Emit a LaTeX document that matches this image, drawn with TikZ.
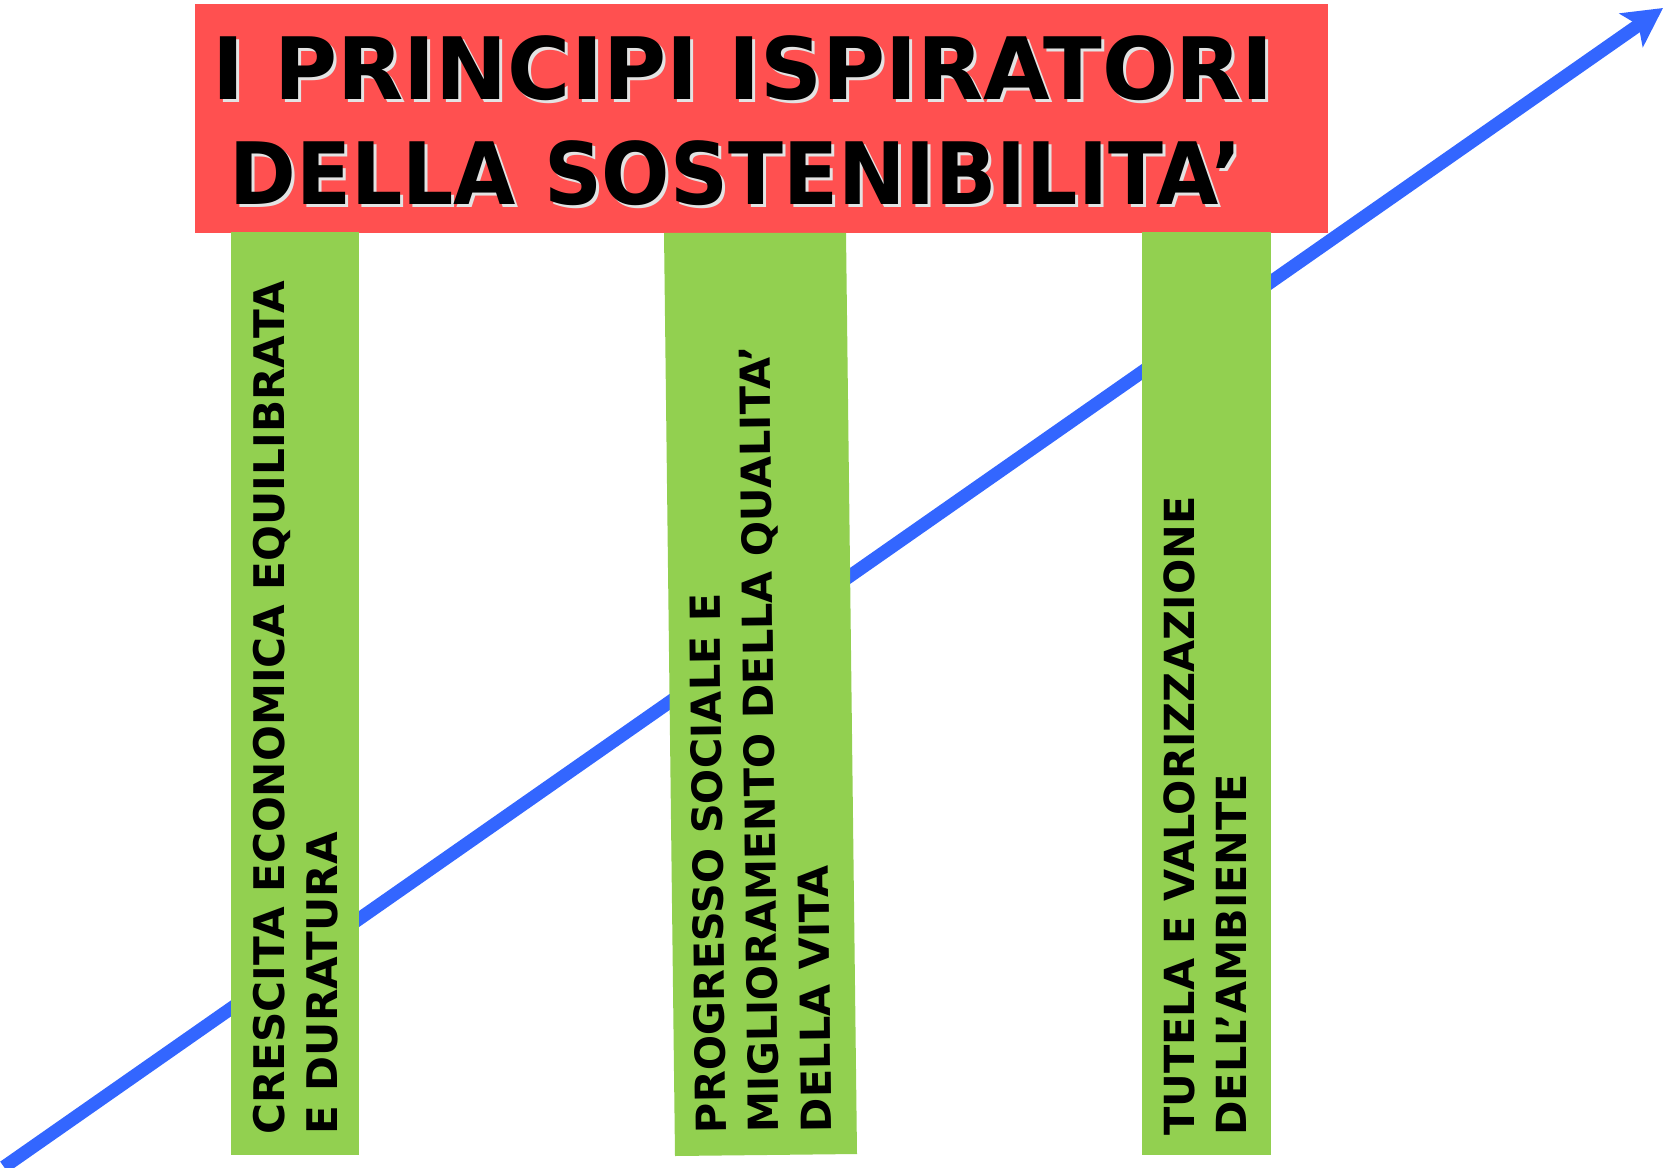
\documentclass[tikz,border=0pt]{standalone}
\usepackage{fontspec}
\setmainfont{DejaVu Sans}
\usetikzlibrary{arrows.meta}

\definecolor{titlered}{RGB}{255,80,80}
\definecolor{pillargreen}{RGB}{146,208,80}
\definecolor{arrowblue}{RGB}{51,102,255}

\tikzset{
    pillar/.style={fill=pillargreen, draw=none},
    pillartext/.style={inner sep=0, align=left, anchor=north west,
        font=\fontsize{24}{30}\selectfont\bfseries},
    titletext/.style={inner sep=0, anchor=base west,
        font=\fontsize{49}{58.5}\selectfont\bfseries},
    titleshadow/.style={titletext, text=white!78!gray}
}

\begin{document}
\begin{tikzpicture}[x=0.02cm, y=-0.02cm]
            \useasboundingbox (0, 0) rectangle (1665, 1168);

            % freccia di crescita
            \coordinate (S) at (4, 1167);
            \coordinate (E) at (1663, 8);
            \draw[arrowblue, line width=7.5pt, -{Stealth[length=22pt, width=23pt, inset=5pt]}] (S) -- (E);

            % titolo
            \draw[titlered, fill=titlered] (195, 4) rectangle (1327, 232);
            \node[titleshadow] at (215, 102.5) { I PRINCIPI ISPIRATORI };
            \node[titletext] (title1) at (212, 100) { I PRINCIPI ISPIRATORI };
            \node[titleshadow] at (232, 207.5) { \scalebox{0.935}[1]{DELLA SOSTENIBILITA’} };
            \node[titletext] (title2) at (229, 205) { \scalebox{0.935}[1]{DELLA SOSTENIBILITA’} };

            % pilastri
            \coordinate (A1) at (231, 232);
            \coordinate (B1) at (359, 232);
            \coordinate (C1) at (359, 1155);
            \coordinate (D1) at (231, 1155);
            \fill[pillar] (A1) -- (B1) -- (C1) -- (D1) -- cycle;
            \node[pillartext, rotate=90] (growth) at (253, 1135)
                { CRESCITA ECONOMICA EQUILIBRATA \\ E DURATURA };

            \coordinate (A2) at (664, 233);
            \coordinate (B2) at (846, 233);
            \coordinate (C2) at (857, 1154);
            \coordinate (D2) at (675, 1156);
            \fill[pillar] (A2) -- (B2) -- (C2) -- (D2) -- cycle;
            \node[pillartext, rotate=90.68, font=\fontsize{23.6}{30}\selectfont\bfseries] (progress) at (695, 1134)
                { PROGRESSO SOCIALE E \\ MIGLIORAMENTO DELLA QUALITA’ \\ DELLA VITA };

            \coordinate (A3) at (1142, 232);
            \coordinate (B3) at (1271, 232);
            \coordinate (C3) at (1271, 1155);
            \coordinate (D3) at (1142, 1155);
            \fill[pillar] (A3) -- (B3) -- (C3) -- (D3) -- cycle;
            \node[pillartext, rotate=90, font=\fontsize{23.6}{30}\selectfont\bfseries] (protection) at (1163, 1136)
                { TUTELA E VALORIZZAZIONE \\ DELL’AMBIENTE };
\end{tikzpicture}
\end{document}
